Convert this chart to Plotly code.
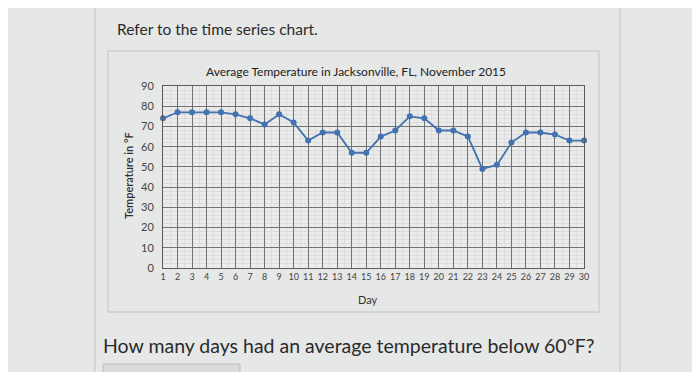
import plotly.graph_objects as go

days = list(range(1, 31))
temps = [74, 77, 77, 77, 77, 76, 74, 71, 76, 72, 63, 67, 67, 57, 57,
         65, 68, 75, 74, 68, 68, 65, 49, 51, 62, 67, 67, 66, 63, 63]
y_ticks = list(range(0, 100, 10))

title_text = "Average Temperature in Jacksonville, FL, November 2015"
y_title = "Temperature in °F"
x_title = "Day"
intro = "Refer to the time series chart."
question = "How many days had an average temperature below 60°F?"

FONT = "Lato, 'Open Sans', sans-serif"

# the page body adds an 8px offset; the figure is sized to compensate
W, H = 692, 364
PL, PR, PT, PB = 163, 584, 86, 268  # plot box in window pixels

fig = go.Figure()
fig.add_trace(go.Scatter(
    x=days, y=temps, mode="lines+markers",
    line=dict(color="#4273b0", width=1.8),
    marker=dict(color="#4273b0", size=6),
    cliponaxis=False, showlegend=False,
))

fig.update_layout(
    width=W, height=H,
    margin=dict(l=PL - 8, r=W - (PR - 8), t=PT - 8, b=H - (PB - 8)),
    paper_bgcolor="#e6e7e7",
    plot_bgcolor="#eaebea",
    font=dict(family=FONT, color="#333333"),
    xaxis=dict(
        range=[1, 30], tickvals=days, ticktext=[str(d) for d in days],
        showgrid=True, gridcolor="#727272", gridwidth=1,
        minor=dict(dtick=0.5, showgrid=True, gridcolor="#dcdcdc", gridwidth=1),
        zeroline=False, showline=True, linecolor="#5a5a5a", linewidth=1,
        mirror=True, ticks="", tickfont=dict(size=9, color="#444444"),
    ),
    yaxis=dict(
        range=[0, 90], tickvals=y_ticks,
        showgrid=True, gridcolor="#727272", gridwidth=1,
        minor=dict(dtick=2, showgrid=True, gridcolor="#dcdcdc", gridwidth=1),
        zeroline=False, showline=True, linecolor="#5a5a5a", linewidth=1,
        mirror=True, ticks="", ticklabelstandoff=6,
        tickfont=dict(size=11, color="#444444"),
    ),
)

def px_x(x):
    return (x - PL) / (PR - PL)

def px_y(y):
    return (PB - y) / (PB - PT)

shapes = [
    dict(type="rect", xref="paper", yref="paper",
         x0=px_x(108), x1=px_x(599), y0=px_y(312), y1=px_y(51),
         line=dict(color="#cfcfcf", width=1.5), fillcolor="rgba(0,0,0,0)", layer="below"),
    dict(type="line", xref="paper", yref="paper",
         x0=px_x(95), x1=px_x(95), y0=px_y(380), y1=px_y(0),
         line=dict(color="#c4c4c4", width=1)),
    dict(type="line", xref="paper", yref="paper",
         x0=px_x(620), x1=px_x(620), y0=px_y(380), y1=px_y(0),
         line=dict(color="#c4c4c4", width=1)),
    dict(type="rect", xref="paper", yref="paper",
         x0=px_x(103), x1=px_x(240), y0=px_y(380), y1=px_y(364),
         line=dict(color="#bdbdbd", width=1), fillcolor="#d9dada"),
]
fig.update_layout(shapes=shapes)

annotations = [
    dict(text=title_text, x=px_x(356), y=px_y(71), xref="paper", yref="paper",
         showarrow=False, font=dict(size=12, color="#222222"), xanchor="center", yanchor="middle"),
    dict(text=y_title, x=px_x(128), y=px_y(176), xref="paper", yref="paper",
         showarrow=False, textangle=-90, font=dict(size=11, color="#2e2e2e", weight=600),
         xanchor="center", yanchor="middle"),
    dict(text=x_title, x=px_x(368), y=px_y(299), xref="paper", yref="paper",
         showarrow=False, font=dict(size=11, color="#333333"), xanchor="center", yanchor="middle"),
    dict(text=intro, x=px_x(115), y=px_y(29), xref="paper", yref="paper",
         showarrow=False, font=dict(size=15.5, color="#2b2b2b"), xanchor="left", yanchor="middle"),
    dict(text=question, x=px_x(101), y=px_y(345), xref="paper", yref="paper",
         showarrow=False, font=dict(size=19.5, color="#2b2b2b"), xanchor="left", yanchor="middle"),
]
fig.update_layout(annotations=annotations)

fig.write_html("out.html")
